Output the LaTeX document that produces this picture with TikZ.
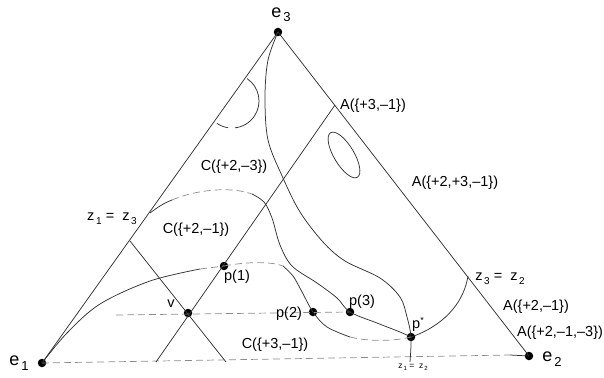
\documentclass[tikz,border=0pt]{standalone}
\usepackage{fontspec}
\setmainfont{Liberation Sans}
\begin{document}
\begin{tikzpicture}[x=1pt,y=-1pt,
  ln/.style={line width=0.75pt, draw=black!80},
  dsh/.style={line width=0.7pt, draw=black!45, dash pattern=on 7pt off 4pt},
  dot/.style={circle, fill=black, inner sep=0pt, minimum size=8.5pt},
  lbl/.style={font=\fontsize{14.5}{14.5}\selectfont, inner sep=0pt},
  elbl/.style={font=\fontsize{18}{18}\selectfont, inner sep=0pt},
  small/.style={font=\fontsize{8.5}{8.5}\selectfont, inner sep=0pt}]
\useasboundingbox (0,0) rectangle (604,377);
% vertices and points
\node[dot] (e1) at (42,363) {};
\node[dot] (e2) at (529,356) {};
\node[dot] (e3) at (278,32) {};
\node[dot] (p1) at (224,266) {};
\node[dot] (v) at (188,313) {};
\node[dot] (p2) at (313,312) {};
\node[dot] (p3) at (350,312) {};
\node[dot] (ps) at (411,337) {};
\coordinate (A31) at (335,105);
\coordinate (Abot) at (156,362);
\coordinate (z13a) at (130,241);
\coordinate (z13b) at (226,362);
\coordinate (z13c) at (150,213);
\coordinate (z32) at (468,276);
\coordinate (h1) at (116,315);
\coordinate (ebr) at (510,355);
% triangle
\draw[ln] (e1.center) -- (e3.center) -- (e2.center);
\draw[dsh] (e1.center) -- (ebr);
\draw[ln] (ebr) -- (e2.center);
% straight lines
\draw[ln] (A31) -- (Abot);
\draw[ln] (z13a) -- (z13b);
\draw[dsh] (h1) -- (p3.center);
% curve from e3 to p* and below
\draw[ln] plot[smooth, tension=0.55] coordinates {(e3.center) (268,60) (265,97) (268,140) (283,178) (300,212) (323,242) (345,261) (380,278) (400,297) (407,317) (ps.center) (410,362)};
% curve from z1=z3 over to p(3) and p*
\draw[ln] (z13c) .. controls (158,207) and (164,203) .. (172,200);
\draw[dsh] (172,200) .. controls (195,190) and (230,186) .. (252,194);
\draw[ln] plot[smooth, tension=0.55] coordinates {(252,194) (264,202) (272,218) (280,245) (292,266) (317,283) (337,298) (p3.center) (377,323) (400,332) (ps.center)};
% curve from e1 through p(1), p(2) to p*
\draw[ln] plot[smooth, tension=0.55] coordinates {(e1.center) (67,333) (100,304) (150,281) (200,269)};
\draw[dsh] (200,269) -- (p1.center);
\draw[dsh] (p1.center) .. controls (245,262) and (270,261) .. (283,266);
\draw[ln] plot[smooth, tension=0.55] coordinates {(283,266) (293,276) (301,290) (p2.center) (327,327) (350,337)};
\draw[dsh] (350,337) .. controls (370,342) and (395,341) .. (ps.center);
% curve from p* to z3=z2
\draw[ln] (ps.center) .. controls (432,330) and (462,312) .. (z32);
% small arc near e3
\draw[ln] ([shift={(-56:27)}]232,101) arc[start angle=-56, end angle=84, radius=27];
\draw[ln] ([shift={(98:27)}]232,101) arc[start angle=98, end angle=124, radius=27];
% ellipse
\draw[ln, rotate around={-59:(344,155)}] (344,155) ellipse[x radius=26, y radius=10];
% labels
\node[elbl] (le3) at (281,15) {e\raisebox{-4pt}{\fontsize{13}{13}\selectfont\,3}};
\node[elbl] (le1) at (19,363) {e\raisebox{-5pt}{\fontsize{13}{13}\selectfont\,1}};
\node[elbl] (le2) at (552,359) {e\raisebox{-5pt}{\fontsize{13}{13}\selectfont\,2}};
\node[lbl] (lA31) at (373,106) {A(\{+3,\textendash1\})};
\node[lbl] (lA231) at (455,183) {A(\{+2,+3,\textendash1\})};
\node[lbl] (lC23) at (234,167) {C(\{+2,\textendash3\})};
\node[lbl] (lC21) at (196,230) {C(\{+2,\textendash1\})};
\node[lbl] (lC31) at (275,345) {C(\{+3,\textendash1\})};
\node[lbl] (lA21) at (536,307) {A(\{+2,\textendash1\})};
\node[lbl] (lA213) at (560,333) {A(\{+2,\textendash1,\textendash3\})};
\node[lbl] (lp1) at (237,277) {p(1)};
\node[lbl] (lp2) at (289,314) {p(2)};
\node[lbl] (lp3) at (362,302) {p(3)};
\node[lbl] (lps) at (418,324) {p\raisebox{5pt}{\fontsize{9}{9}\selectfont *}};
\node[lbl] (lv) at (171,304) {v};
\node[lbl] (lz13) at (112,219) {z\raisebox{-4pt}{\fontsize{10}{10}\selectfont\,1}\ = \ z\raisebox{-4pt}{\fontsize{10}{10}\selectfont\,3}};
\node[lbl] (lz32) at (500,279) {z\raisebox{-4pt}{\fontsize{10}{10}\selectfont\,3}\ = \ z\raisebox{-4pt}{\fontsize{10}{10}\selectfont\,2}};
\node[small] (lz12) at (413,367) {z\raisebox{-2pt}{\fontsize{6}{6}\selectfont\,1}\ = \ z\raisebox{-2pt}{\fontsize{6}{6}\selectfont\,2}};
\end{tikzpicture}
\end{document}
